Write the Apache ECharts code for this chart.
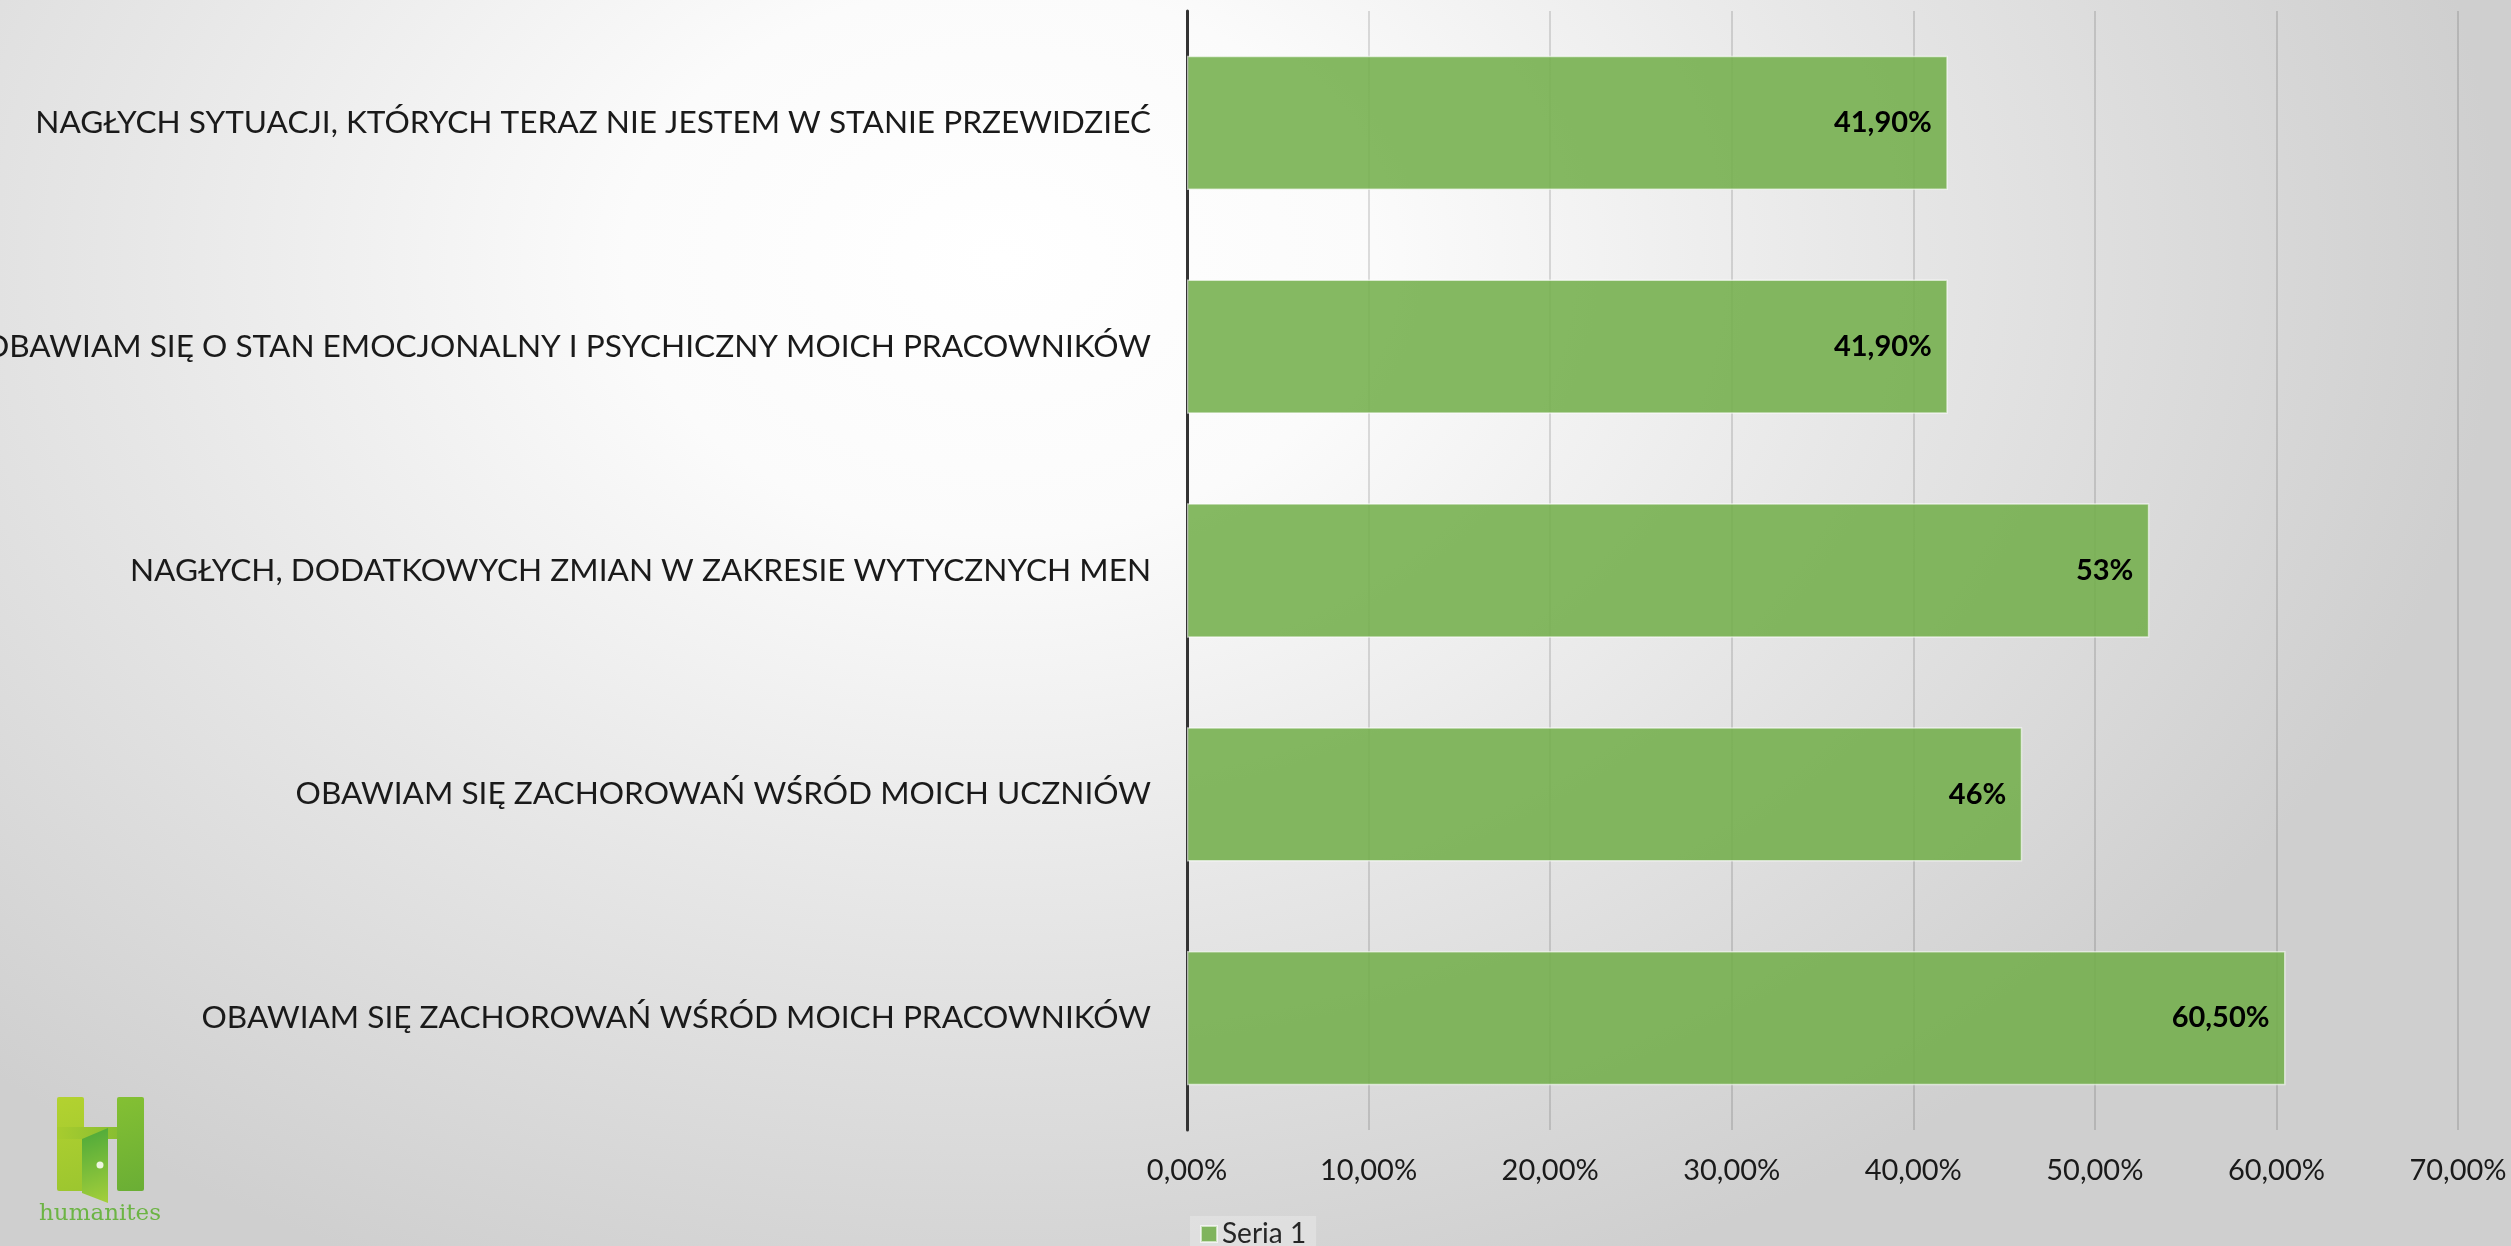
<!DOCTYPE html>
<html>
<head>
<meta charset="utf-8">
<script src="https://cdn.jsdelivr.net/npm/echarts@6/dist/echarts.min.js"></script>
<style>
  html, body { margin: 0; padding: 0; }
  #chart {
    width: 2511px; height: 1246px;
    background: radial-gradient(ellipse 1500px 1100px at 1000px 260px, #ffffff 0%, #fbfbfb 25%, #e6e6e6 60%, #cfcfcf 100%);
  }
</style>
</head>
<body>
<div id="chart"></div>
<script>
// categories listed top to bottom as in the picture
var categories = [
  'NAGŁYCH SYTUACJI, KTÓRYCH TERAZ NIE JESTEM W STANIE PRZEWIDZIEĆ',
  'OBAWIAM SIĘ O STAN EMOCJONALNY I PSYCHICZNY MOICH PRACOWNIKÓW',
  'NAGŁYCH, DODATKOWYCH ZMIAN W ZAKRESIE WYTYCZNYCH MEN',
  'OBAWIAM SIĘ ZACHOROWAŃ WŚRÓD MOICH UCZNIÓW',
  'OBAWIAM SIĘ ZACHOROWAŃ WŚRÓD MOICH PRACOWNIKÓW'
];
var seria1 = [41.9, 41.9, 53, 46, 60.5];
var seria1Labels = ['41,90%', '41,90%', '53%', '46%', '60,50%'];
var xTicks = ['0,00%', '10,00%', '20,00%', '30,00%', '40,00%', '50,00%', '60,00%', '70,00%'];

var font = 'Lato, "Open Sans", sans-serif';
var chart = echarts.init(document.getElementById('chart'));

var option = {
  backgroundColor: 'transparent',
  animation: false,
  grid: { left: 1187, right: 53, top: 11, bottom: 116, containLabel: false, outerBoundsMode: 'none' },
  legend: {
    show: true,
    left: 1190,
    top: 1216,
    itemWidth: 16,
    itemHeight: 16,
    icon: 'rect',
    backgroundColor: 'rgba(255,255,255,0.25)',
    padding: [4, 10, 4, 10],
    textStyle: { fontFamily: font, fontSize: 28, color: '#262626' },
    data: ['Seria 1']
  },
  xAxis: {
    type: 'value',
    min: 0,
    max: 70,
    interval: 10,
    axisLine: { show: false },
    axisTick: { show: false },
    splitLine: { show: true, lineStyle: { color: 'rgba(0,0,0,0.17)', width: 1.5 } },
    axisLabel: {
      margin: 26,
      fontFamily: font,
      fontSize: 29,
      color: '#1a1a1a',
      formatter: function (v) { return xTicks[Math.round(v / 10)]; }
    }
  },
  yAxis: {
    type: 'category',
    inverse: true,
    data: categories,
    axisLine: { show: true, lineStyle: { color: '#333333', width: 3 } },
    axisTick: { show: false },
    axisLabel: {
      margin: 36,
      fontFamily: font,
      fontSize: 31.6,
      color: '#1a1a1a'
    }
  },
  series: [{
    name: 'Seria 1',
    type: 'bar',
    data: seria1,
    barWidth: '60%',
    itemStyle: {
      color: 'rgba(112,173,71,0.85)',
      borderColor: 'rgba(255,255,255,0.6)',
      borderWidth: 1.5
    },
    label: {
      show: true,
      position: 'insideRight',
      distance: 16,
      fontFamily: font,
      fontWeight: 'bold',
      fontSize: 29,
      color: '#000',
      formatter: function (p) { return seria1Labels[p.dataIndex]; }
    }
  }],
  graphic: [
    // humanites logo, bottom left
    {
      type: 'group', x: 57, y: 1097,
      children: [
        { type: 'rect', shape: { x: 0, y: 0, width: 27, height: 94, r: 2 },
          style: { fill: new echarts.graphic.LinearGradient(0, 0, 1, 1, [{ offset: 0, color: '#b3d230' }, { offset: 1, color: '#9cc62f' }]) } },
        { type: 'rect', shape: { x: 0, y: 30, width: 87, height: 12 },
          style: { fill: new echarts.graphic.LinearGradient(0, 0, 1, 0, [{ offset: 0, color: '#a8cc2e' }, { offset: 1, color: '#7ab833' }]) } },
        { type: 'rect', shape: { x: 60, y: 0, width: 27, height: 94, r: 2 },
          style: { fill: new echarts.graphic.LinearGradient(0, 0, 1, 1, [{ offset: 0, color: '#84c033' }, { offset: 1, color: '#6aae35' }]) } },
        { type: 'polygon', shape: { points: [[25, 42], [51, 31], [51, 106], [25, 96]] },
          style: { fill: new echarts.graphic.LinearGradient(0, 0, 1, 1, [{ offset: 0, color: '#4aa83a' }, { offset: 1, color: '#a5cf3a' }]) } },
        { type: 'circle', shape: { cx: 43, cy: 68, r: 3.5 }, style: { fill: '#eef5e0' } },
        { type: 'text', style: { x: 43, y: 117, text: 'humanites', fill: '#6cb444', font: '23px "DejaVu Serif", serif', align: 'center', verticalAlign: 'middle' } }
      ]
    }
  ]
};

chart.setOption(option);
</script>
</body>
</html>
